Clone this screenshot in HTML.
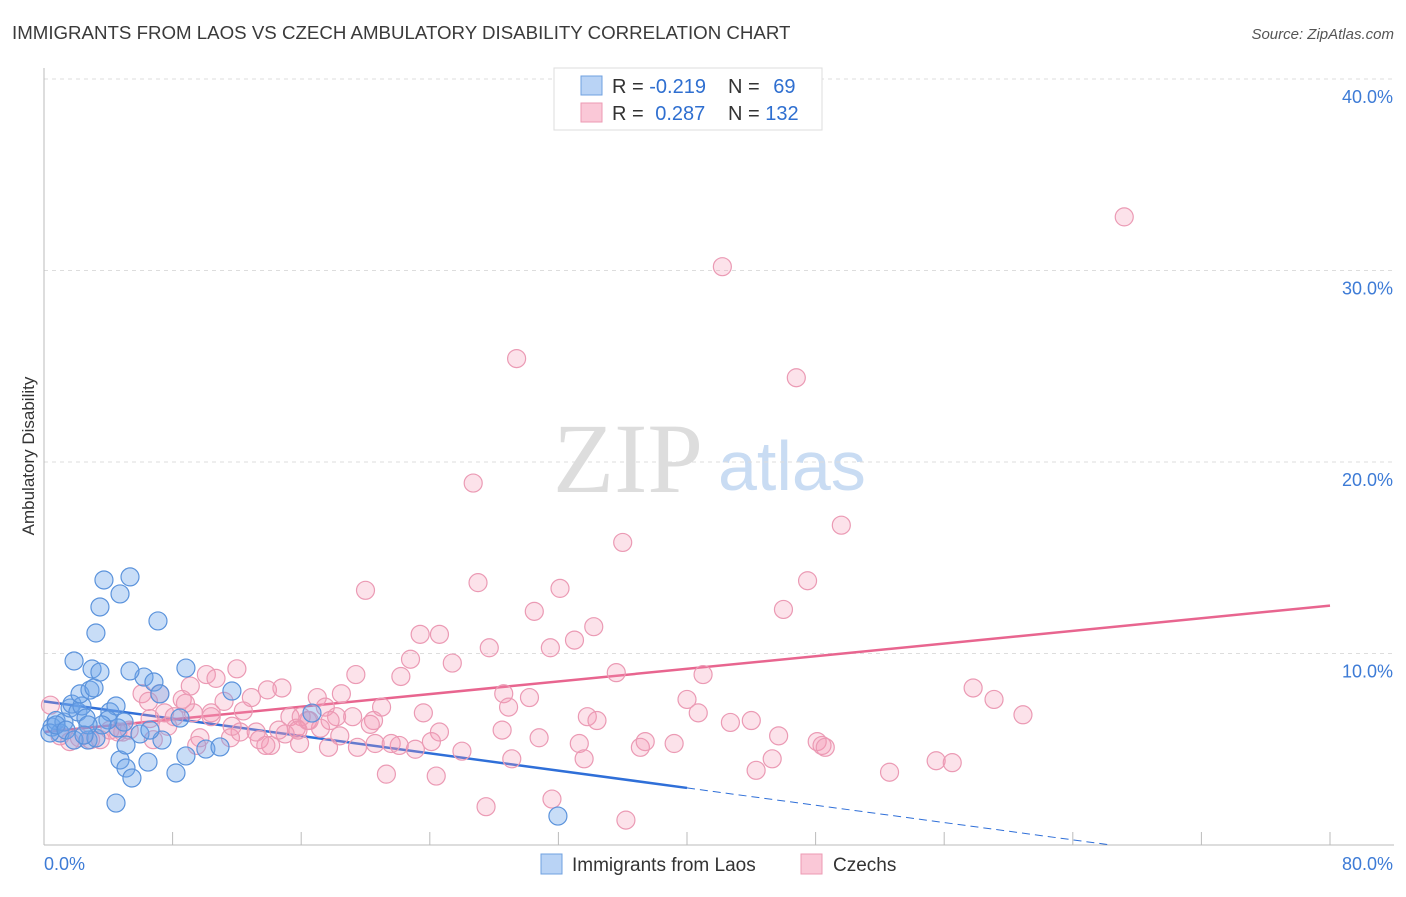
<!DOCTYPE html>
<html><head><meta charset="utf-8"><style>
body{margin:0;background:#fff;font-family:"Liberation Sans",sans-serif}
</style></head><body>
<svg id="chart" width="1406" height="892" xmlns="http://www.w3.org/2000/svg" font-family="Liberation Sans, sans-serif">
<text x="12" y="39" font-size="18.7" fill="#3a3a3a">IMMIGRANTS FROM LAOS VS CZECH AMBULATORY DISABILITY CORRELATION CHART</text>
<text x="1394" y="39" font-size="15" fill="#555" text-anchor="end" font-style="italic">Source: ZipAtlas.com</text>
<text x="553" y="492" font-size="100" fill="#ddd" font-family="Liberation Serif, serif">ZIP</text>
<text x="718" y="490" font-size="70" fill="#c9dcf3">atlas</text>
<g id="grid"></g>
<g id="axes"></g>
<g id="lines"></g>
<g id="pts"></g>
<text transform="translate(34,456) rotate(-90)" font-size="17" fill="#333" text-anchor="middle">Ambulatory Disability</text>
<g>
<rect x="554" y="68" width="268" height="62" fill="#fff" stroke="#ddd"/>
<rect x="581" y="76" width="21" height="19" fill="#b9d3f5" stroke="#6fa0e0"/>
<rect x="581" y="103" width="21" height="19" fill="#fac8d7" stroke="#ec9ab3"/>
<text x="612" y="93" font-size="20" fill="#333">R = <tspan fill="#2f6fd0">-0.219</tspan></text>
<text x="728" y="93" font-size="20" fill="#333">N = <tspan fill="#2f6fd0" dx="8">69</tspan></text>
<text x="612" y="120" font-size="20" fill="#333">R = <tspan fill="#2f6fd0" dx="6">0.287</tspan></text>
<text x="728" y="120" font-size="20" fill="#333">N = <tspan fill="#2f6fd0">132</tspan></text>
</g>
<g>
<rect x="541" y="854" width="21" height="20" fill="#b9d3f5" stroke="#6fa0e0"/>
<text x="572" y="871" font-size="19" fill="#333">Immigrants from Laos</text>
<rect x="801" y="854" width="21" height="20" fill="#fac8d7" stroke="#ec9ab3"/>
<text x="833" y="871" font-size="19" fill="#333">Czechs</text>
</g>
</svg>
<script>
const blueX=[0.5,0.75,1.0,0.37,1.24,1.62,1.74,2.11,2.36,2.61,2.24,2.86,3.11,2.99,3.48,1.87,3.23,3.48,3.73,4.73,5.35,7.09,8.83,6.22,5.35,6.84,7.21,11.69,4.1,4.6,4.48,4.98,5.97,4.73,5.1,5.47,6.47,8.21,8.83,10.07,10.95,4.48,5.1,2.74,3.23,8.46,7.34,16.67,31.97,0.75,1.37,3.98,3.61,6.59,2.74,1.87,2.49];
const blueY=[6.16,6.5,5.85,5.85,6.42,7.15,7.36,6.95,7.26,6.63,7.89,8.09,8.2,9.19,9.03,9.61,11.07,12.43,13.84,13.11,14.0,11.7,9.24,8.77,9.09,8.51,7.89,8.04,6.95,6.11,7.26,6.42,5.8,4.44,4.02,3.5,4.33,3.76,4.65,5.01,5.12,2.19,5.22,5.48,5.59,6.63,5.48,6.89,1.51,6.27,6.0,6.53,6.27,6.0,6.27,5.48,5.74];
const pinkX=[67.2,42.2,29.4,46.8,26.7,49.6,36.0,20.0,27.0,47.5,32.1,30.5,46.0,34.2,23.4,24.6,33.0,31.5,27.7,22.8,25.4,35.6,41.0,19.4,22.2,12.0,10.1,10.7,9.1,7.2,6.1,6.5,8.6,8.8,13.9,14.8,17.0,18.5,28.6,30.2,40.0,40.7,57.8,59.1,60.9,28.9,23.6,21.0,12.9,11.2,12.4,7.5,8.1,9.3,10.4,15.3,16.0,17.5,18.2,19.2,20.5,17.8,16.4,15.7,15.0,13.2,12.2,14.6,13.4,11.6,9.7,7.7,6.6,5.3,4.9,4.1,3.5,2.9,1.0,0.4,1.6,2.2,24.6,26.0,24.1,22.1,23.1,21.6,20.6,19.5,18.4,17.2,14.1,15.9,21.3,24.4,27.5,31.6,36.2,28.5,29.1,30.8,33.3,33.6,33.8,34.4,37.1,37.4,39.2,42.7,44.0,45.7,45.3,44.3,48.1,48.4,48.6,52.6,55.5,56.5,4.6,6.8,9.5,10.4,11.7,13.8,15.8,16.5,17.7,20.3];
const pinkY=[32.8,30.2,25.4,24.4,18.9,16.7,15.8,13.3,13.7,13.8,13.4,12.2,12.3,11.4,11.0,11.0,10.7,10.3,10.3,9.7,9.5,9.0,8.9,8.9,8.8,9.2,8.9,8.7,8.3,7.9,7.9,7.5,7.6,7.4,8.1,8.2,7.7,7.9,7.9,7.7,7.6,6.9,8.2,7.6,6.8,7.2,6.9,7.2,7.7,7.5,7.0,6.9,6.7,6.9,6.9,6.7,6.7,7.2,6.7,6.7,6.5,6.5,6.5,6.1,5.8,5.9,5.9,6.0,5.5,5.6,5.6,6.2,6.6,6.0,5.9,6.0,5.5,5.5,5.7,7.3,5.4,5.6,5.9,4.9,5.4,5.2,5.0,5.3,5.3,5.1,5.7,6.1,5.2,5.3,3.7,3.6,2.0,2.4,1.3,6.0,4.5,5.6,5.3,4.5,6.7,6.5,5.1,5.4,5.3,6.4,6.5,5.7,4.5,3.9,5.4,5.2,5.1,3.8,4.4,4.3,5.9,5.5,5.2,6.7,6.2,5.2,6.0,6.5,5.1,6.3];
const yTicks=[10,20,30,40];
const yTickLabels=["10.0%","20.0%","30.0%","40.0%"];
const xTicks=[0,8,16,24,32,40,48,56,64,72,80];
const blueTrend=[7.5,-0.113]; // intercept, slope
const pinkTrend=[5.9,0.0825];
const blueSolidEnd=40;

const X0=44,X1=1330,Y0=845,Y40=79;
const sx=v=>X0+(X1-X0)*v/80;
const sy=v=>Y0-(Y0-Y40)*v/40;
const NS='http://www.w3.org/2000/svg';
function mk(tag,attrs,parent){const e=document.createElementNS(NS,tag);for(const k in attrs)e.setAttribute(k,attrs[k]);parent.appendChild(e);return e;}
const grid=document.getElementById('grid'),axes=document.getElementById('axes'),lines=document.getElementById('lines'),pts=document.getElementById('pts');
yTicks.forEach((t,i)=>{
  const l=mk('line',{x1:X0,x2:1394,y1:sy(t),y2:sy(t),stroke:'#ddd','stroke-dasharray':'4,4'},grid);
  
  
  const tx=mk('text',{x:1393,y:sy(t)+24,'font-size':18,fill:'#3d7bd6','text-anchor':'end'},grid);
  tx.textContent=yTickLabels[i];
  
  
});
const xa=mk('line',{x1:X0,x2:1394,y1:Y0,y2:Y0,stroke:'#bbb'},axes);


const ya=mk('line',{x1:X0,x2:X0,y1:68,y2:Y0,stroke:'#bbb'},axes);


xTicks.forEach(t=>{
  const l=mk('line',{x1:sx(t),x2:sx(t),y1:Y0,y2:Y0-13,stroke:'#bbb'},axes);
  
  
});
const xl0=mk('text',{x:44,y:870,'font-size':18,fill:'#3d7bd6'},axes);xl0.textContent='0.0%';


const xl1=mk('text',{x:1393,y:870,'font-size':18,fill:'#3d7bd6','text-anchor':'end'},axes);xl1.textContent='80.0%';



function pt(x,y,fill,stroke,name){
  const c=mk('circle',{cx:sx(x),cy:sy(y),r:9,fill:fill,stroke:stroke,'stroke-width':1.2},pts);
  
  
}
pinkX.forEach((x,i)=>pt(x,pinkY[i],'rgba(244,150,180,0.28)','#eb9ab4','czech-point'));
blueX.forEach((x,i)=>pt(x,blueY[i],'rgba(110,165,235,0.38)','#5b93dc','laos-point'));

const bz=-blueTrend[0]/blueTrend[1];
const b1=mk('line',{x1:sx(0),y1:sy(blueTrend[0]),x2:sx(blueSolidEnd),y2:sy(blueTrend[0]+blueTrend[1]*blueSolidEnd),stroke:'#2f6fd8','stroke-width':2.5},lines);


const b2=mk('line',{x1:sx(blueSolidEnd),y1:sy(blueTrend[0]+blueTrend[1]*blueSolidEnd),x2:sx(bz),y2:sy(0),stroke:'#2f6fd8','stroke-width':1,'stroke-dasharray':'8,5'},lines);


const p1=mk('line',{x1:sx(0),y1:sy(pinkTrend[0]),x2:sx(80),y2:sy(pinkTrend[0]+pinkTrend[1]*80),stroke:'#e8658f','stroke-width':2.5},lines);


</script>
</body></html>
